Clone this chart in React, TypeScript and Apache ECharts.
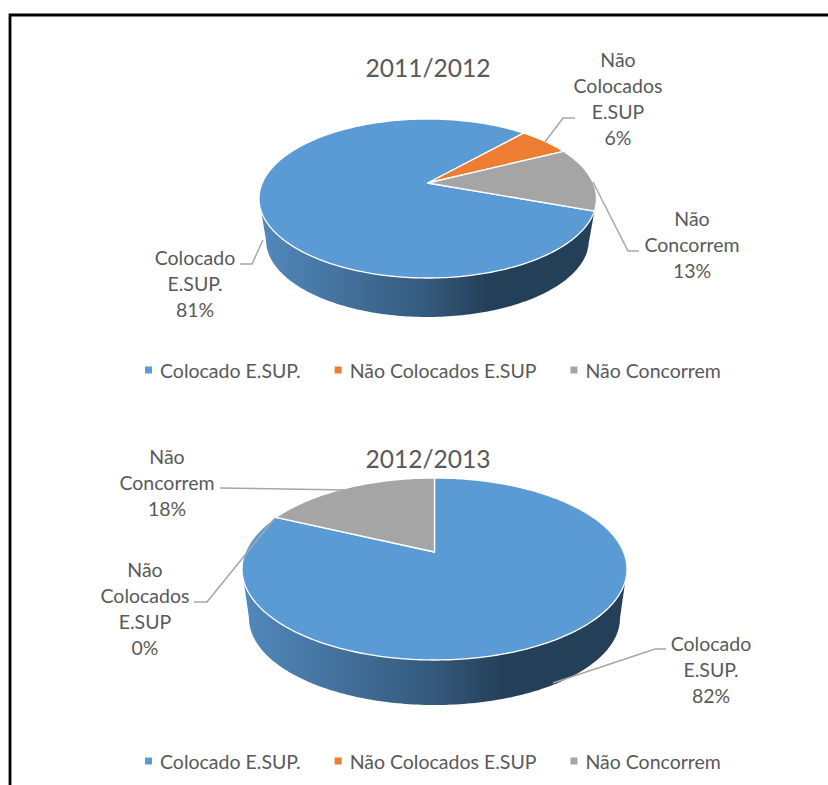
import React, { useEffect, useRef } from "react";
import * as echarts from "echarts";

const categories = ["Colocado E.SUP.", "Não Colocados E.SUP", "Não Concorrem"];
const values2011 = [81, 6, 13];
const values2012 = [82, 0, 18];
const titles = ["2011/2012", "2012/2013"];
const wrappedNames = [
  ["Colocado", "E.SUP."],
  ["Não", "Colocados", "E.SUP"],
  ["Não", "Concorrem"],
];
const colors = ["#5B9BD5", "#ED7D31", "#A5A5A5"];
const wallColors = [
  [{ offset: 0, color: "#5289BD" }, { offset: 0.5, color: "#34597B" }, { offset: 0.68, color: "#243F58" }, { offset: 1, color: "#243F58" }],
  [{ offset: 0, color: "#C96A2A" }, { offset: 1, color: "#6B3A1A" }],
  [{ offset: 0, color: "#8C8C8C" }, { offset: 1, color: "#4A4A4A" }],
];

const layouts = [
  {
    values: values2011,
    start: 110,
    top: { left: 259, right: 596.5, top: 119, bottom: 278, apex: 183 },
    low: { left: 266, right: 589, top: 163, bottom: 317 },
    titleY: 68,
    legendY: 360,
    labels: [
      { x: 195, y: 257, leader: [[240, 264], [252, 264], [263, 240]] },
      { x: 618, y: 59, leader: [[545, 142], [563, 118], [575, 118]] },
      { x: 692, y: 218, leader: [[593, 182], [628, 251], [639, 251]] },
    ],
  },
  {
    values: values2012,
    start: 0,
    top: { left: 242, right: 627, top: 478, bottom: 660, apex: 552 },
    low: { left: 249, right: 620, top: 531, bottom: 705 },
    titleY: 459,
    legendY: 751,
    labels: [
      { x: 711, y: 643, leader: [[666, 649], [655, 649], [553, 683]] },
      { x: 145, y: 569, leader: [[194, 602], [207, 602], [275, 518]] },
      { x: 167, y: 456, leader: [[220, 488], [347, 490]] },
    ],
  },
];

const FONT = "Lato, Carlito, sans-serif";
const TEXT = "#595959";
const LINE_H = 26.3;
const LABEL_SIZE = 19.5;

function projector(b: any) {
  const cx = (b.left + b.right) / 2;
  const rx = (b.right - b.left) / 2;
  let k: number, bb: number, y0: number;
  if (b.apex !== undefined) {
    const up = b.apex - b.top;
    const dn = b.bottom - b.apex;
    k = (dn - up) / (dn + up);
    bb = up * (1 + k);
    y0 = b.apex;
  } else {
    k = b.k;
    bb = ((b.bottom - b.top) * (1 - k * k)) / 2;
    y0 = b.top + bb / (1 + k);
  }
  const a = rx * Math.sqrt(1 - k * k);
  const at = (phi: number) => {
    const t = ((90 - phi) * Math.PI) / 180;
    const d = 1 + k * Math.sin(t);
    return [cx + (a * Math.cos(t)) / d, y0 - (bb * Math.sin(t)) / d];
  };
  return { at, k, cx, y0 };
}

function sliceSeries(li: number, i: number) {
  const L = layouts[li];
  const startPct = L.values.slice(0, i).reduce((s, v) => s + v, 0);
  const total = L.values.reduce((s, v) => s + v, 0);
  return {
    type: "custom",
    name: categories[i],
    coordinateSystem: "none",
    itemStyle: { color: colors[i] },
    silent: true,
    data: [[L.values[i]]],
    renderItem: (_p: any, api: any) => {
      const v = api.value(0);
      if (!v) return { type: "group", children: [] };
      const topP = projector(L.top);
      const lowP = projector({ ...L.low, k: topP.k });
      const p0 = L.start + (startPct / total) * 360;
      const p1 = p0 + (v / total) * 360;
      const children: any[] = [];
      const tilt = (Math.asin(topP.k) * 180) / Math.PI;
      const vis0 = 90 + tilt;
      const vis1 = 270 - tilt;
      for (const off of [-360, 0, 360]) {
        const w0 = Math.max(p0 + off, vis0);
        const w1 = Math.min(p1 + off, vis1);
        if (w1 > w0) {
          const n = Math.max(2, Math.ceil(w1 - w0));
          const upper: number[][] = [];
          const lower: number[][] = [];
          for (let s = 0; s <= n; s++) {
            const ph = w0 + ((w1 - w0) * s) / n;
            upper.push(topP.at(ph));
            lower.push(lowP.at(ph));
          }
          children.push({
            type: "polygon",
            shape: { points: upper.concat(lower.reverse()) },
            style: {
              fill: {
                type: "linear",
                x: L.top.left,
                y: 0,
                x2: L.top.right,
                y2: 0,
                global: true,
                colorStops: wallColors[i],
              },
            },
          });
        }
      }
      const pts: number[][] = [[topP.cx, L.top.apex]];
      const n = Math.max(2, Math.ceil(p1 - p0));
      for (let s = 0; s <= n; s++) pts.push(topP.at(p0 + ((p1 - p0) * s) / n));
      children.push({
        type: "polygon",
        shape: { points: pts },
        style: { fill: colors[i], stroke: "#ffffff", lineWidth: 1.3, lineJoin: "round" },
      });
      return { type: "group", children };
    },
  };
}

function buildOption() {
  const series: any[] = [];
  layouts.forEach((_, li) => categories.forEach((__, i) => series.push(sliceSeries(li, i))));
  const graphic: any[] = [
    { type: "polyline", z: 100, shape: { points: [[10, 785], [10, 15], [828, 15]] }, style: { fill: "none", stroke: "#000000", lineWidth: 2.8 } },
  ];
  layouts.forEach((L) => {
    L.labels.forEach((lab, i) => {
      graphic.push({
        type: "polyline",
        z: 100,
        shape: { points: lab.leader },
        style: { fill: "none", stroke: "#A6A6A6", lineWidth: 1.5 },
      });
      const lines = [...wrappedNames[i], `${L.values[i]}%`];
      lines.forEach((t, j) => {
        graphic.push({
          type: "text",
          z: 100,
          x: lab.x,
          y: lab.y + j * LINE_H,
          style: { text: t, fill: TEXT, font: `${LABEL_SIZE}px ${FONT}`, textAlign: "center", textVerticalAlign: "middle" },
        });
      });
    });
  });
  return {
    animation: false,
    backgroundColor: "#ffffff",
    title: layouts.map((L, i) => ({
      text: titles[i],
      left: 423,
      top: L.titleY - 18,
      textAlign: "center",
      textStyle: { color: TEXT, fontFamily: FONT, fontSize: 24.6, fontWeight: "normal" },
    })),
    legend: layouts.map((L) => ({
      data: categories,
      left: 145,
      top: L.legendY,
      padding: 0,
      icon: "rect",
      itemWidth: 7,
      itemHeight: 7,
      itemGap: 34,
      selectedMode: false,
      textStyle: { color: TEXT, fontFamily: FONT, fontSize: LABEL_SIZE, padding: [0, 0, 0, 3] },
    })),
    series,
    graphic,
  };
}

export default function App() {
  const ref = useRef<HTMLDivElement>(null);
  useEffect(() => {
    document.body.style.margin = "0";
    const chart = echarts.init(ref.current!, null, { renderer: "svg" });
    chart.setOption(buildOption() as any);
    return () => chart.dispose();
  }, []);
  return <div ref={ref} style={{ width: 828, height: 785 }} />;
}
